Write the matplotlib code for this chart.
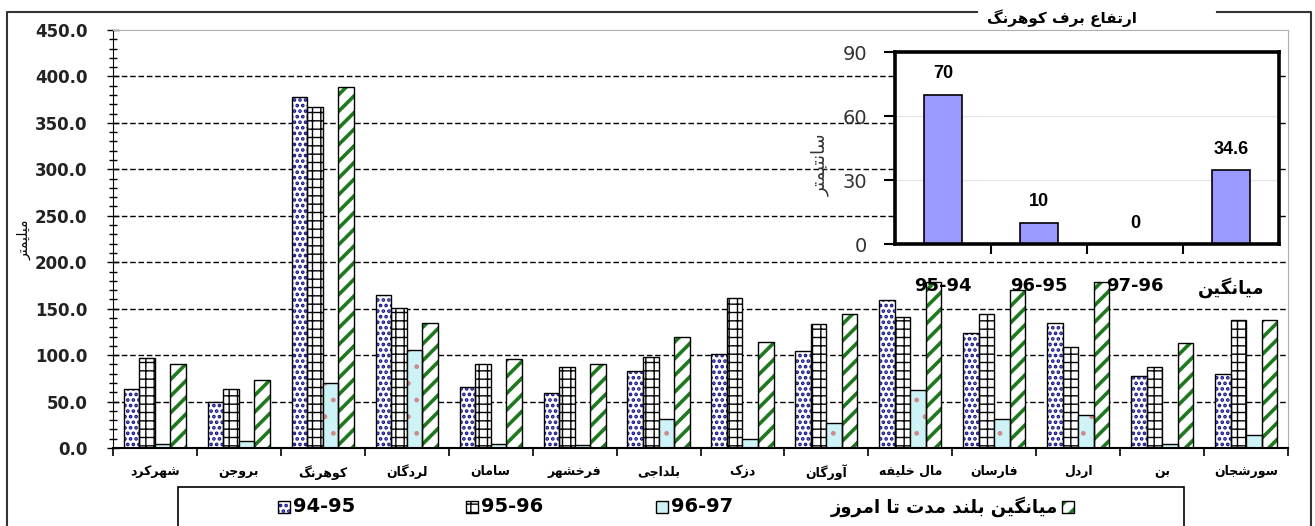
import numpy as np
import matplotlib
matplotlib.use("Agg")
import matplotlib.pyplot as plt
from matplotlib.patches import Rectangle
from matplotlib.lines import Line2D

# --- data -------------------------------------------------------------
stations = ['شهرکرد', 'بروجن', 'کوهرنگ', 'لردگان', 'سامان', 'فرخشهر', 'بلداجی',
            'دزک', 'آورگان', 'مال خلیفه', 'فارسان', 'اردل', 'بن', 'سورشجان']
y9495 = [63, 50, 378, 165, 66, 59, 83, 101, 104, 159, 124, 135, 77, 80]
y9596 = [97, 64, 367, 151, 90, 87, 98, 162, 133, 141, 144, 109, 87, 138]
y9697 = [4, 8, 70, 105, 4, 3, 31, 10, 27, 62, 31, 35, 4, 14]
ylong = [90, 73, 389, 135, 96, 90, 120, 114, 144, 179, 170, 179, 113, 138]
series_names = ['94-95', '95-96', '96-97', 'میانگین بلند مدت تا امروز']

inset_cats = ['95-94', '96-95', '97-96', 'میانگین']
inset_vals = [70, 10, 0, 34.6]
inset_title = 'ارتفاع برف کوهرنگ'
ylabel_main = 'میلیمتر'
ylabel_inset = 'سانتیمتر'

# --- tiny persian shaper (matplotlib 3.10 has no text shaping) --------
FORMS = {
    'ا': ('\uFE8D', '\uFE8E', None, None),
    'آ': ('\uFE81', '\uFE82', None, None),
    'ب': ('\uFE8F', '\uFE90', '\uFE91', '\uFE92'),
    'ت': ('\uFE95', '\uFE96', '\uFE97', '\uFE98'),
    'ج': ('\uFE9D', '\uFE9E', '\uFE9F', '\uFEA0'),
    'خ': ('\uFEA5', '\uFEA6', '\uFEA7', '\uFEA8'),
    'د': ('\uFEA9', '\uFEAA', None, None),
    'ر': ('\uFEAD', '\uFEAE', None, None),
    'ز': ('\uFEAF', '\uFEB0', None, None),
    'س': ('\uFEB1', '\uFEB2', '\uFEB3', '\uFEB4'),
    'ش': ('\uFEB5', '\uFEB6', '\uFEB7', '\uFEB8'),
    'ع': ('\uFEC9', '\uFECA', '\uFECB', '\uFECC'),
    'ف': ('\uFED1', '\uFED2', '\uFED3', '\uFED4'),
    'ل': ('\uFEDD', '\uFEDE', '\uFEDF', '\uFEE0'),
    'م': ('\uFEE1', '\uFEE2', '\uFEE3', '\uFEE4'),
    'ن': ('\uFEE5', '\uFEE6', '\uFEE7', '\uFEE8'),
    'ه': ('\uFEE9', '\uFEEA', '\uFEEB', '\uFEEC'),
    'و': ('\uFEED', '\uFEEE', None, None),
    'ی': ('\uFBFC', '\uFBFD', '\uFBFE', '\uFBFF'),
    'ک': ('\uFB8E', '\uFB8F', '\uFB90', '\uFB91'),
    'گ': ('\uFB92', '\uFB93', '\uFB94', '\uFB95'),
}


def fa(text):
    text = text.replace('\u064A', '\u06CC').replace('\u0643', '\u06A9')
    if not any(ch in FORMS for ch in text):
        return text  # plain latin / digits, leave alone
    out = []
    for i, ch in enumerate(text):
        if ch not in FORMS:
            out.append(ch)
            continue
        prev = text[i - 1] if i > 0 else ''
        nxt = text[i + 1] if i + 1 < len(text) else ''
        join_prev = prev in FORMS and FORMS[prev][2] is not None
        join_next = FORMS[ch][2] is not None and nxt in FORMS
        iso, fin, ini, med = FORMS[ch]
        if join_prev and join_next:
            out.append(med)
        elif join_prev:
            out.append(fin)
        elif join_next:
            out.append(ini)
        else:
            out.append(iso)
    return ''.join(out)[::-1]


plt.rcParams['font.family'] = ['DejaVu Sans']
plt.rcParams['hatch.linewidth'] = 1.0

fig = plt.figure(figsize=(13.15, 5.26), dpi=100)
ax = fig.add_axes([0.0859, 0.1483, 0.8936, 0.7947])

x = np.arange(len(stations))
w = 0.185
navy = '#14148a'
green = '#1f7a1f'

# 94-95 : blue dots
with plt.rc_context({'hatch.linewidth': 1.8}):
    ax.bar(x - 1.5 * w, y9495, w, color='white', edgecolor=navy, hatch='...', lw=0, zorder=2)
ax.bar(x - 1.5 * w, y9495, w, fill=False, edgecolor='black', lw=1, zorder=3)
# 95-96 : bricks
ax.bar(x - 0.5 * w, y9596, w, color='white', edgecolor='black', hatch='++', lw=1, zorder=2)
# 96-97 : light cyan
ax.bar(x + 0.5 * w, y9697, w, color='#cdf3f6', edgecolor='#d08a8a', hatch='.', lw=0, zorder=2)
ax.bar(x + 0.5 * w, y9697, w, fill=False, edgecolor='black', lw=1, zorder=3)
# long-term mean : green stripes
with plt.rc_context({'hatch.linewidth': 2.6}):
    ax.bar(x + 1.5 * w, ylong, w, color='white', edgecolor=green, hatch='//', lw=0, zorder=2)
ax.bar(x + 1.5 * w, ylong, w, fill=False, edgecolor='black', lw=1, zorder=3)

ax.set_xlim(-0.5, len(stations) - 0.5)
ax.set_ylim(0, 450)
ax.set_yticks(np.arange(0, 451, 50))
ax.set_yticks(np.arange(0, 451, 10), minor=True)
ax.set_yticklabels(['%.1f' % v for v in np.arange(0, 451, 50)], fontweight='bold',
                   fontsize=12, color='#222222')
ax.tick_params(axis='y', which='major', direction='inout', length=9, width=1, pad=14)
ax.tick_params(axis='y', which='minor', direction='inout', length=6, width=1)

ax.set_xticks(x)
ax.set_xticklabels([fa(s) for s in stations], fontsize=9, fontweight='bold')
ax.set_xticks(np.arange(-0.5, len(stations), 1), minor=True)
ax.tick_params(axis='x', which='major', length=0, pad=12)
ax.tick_params(axis='x', which='minor', direction='out', length=6, width=1.2)

ax.set_axisbelow(True)
ax.yaxis.grid(True, color='black', linestyle=(0, (4, 2)), lw=1)
gl = ax.yaxis.get_gridlines()
gl[0].set_visible(False)
gl[-1].set_visible(False)
ax.spines['left'].set_color('black')
ax.spines['bottom'].set_linewidth(1.5)
ax.spines['top'].set_color('#b0b0b0')
ax.spines['right'].set_color('#b0b0b0')

fig.text(24 / 1315, 1 - 240 / 526, fa(ylabel_main), rotation=90, fontsize=10,
         ha='center', va='center')

# --- inset ------------------------------------------------------------
iax = fig.add_axes([0.6806, 0.536, 0.292, 0.365])
ix = np.arange(len(inset_cats))
ib = iax.bar(ix, inset_vals, 0.4, color='#9999ff', edgecolor='black', lw=1.2, zorder=2)
iax.bar_label(ib, fmt='%g', padding=9, fontsize=13, fontweight='bold',
              family='Liberation Sans')
iax.set_xlim(-0.5, len(inset_cats) - 0.5)
iax.set_ylim(0, 90)
iax.set_yticks([0, 30, 60, 90])
iax.tick_params(axis='y', direction='out', length=8, width=1.5, pad=12,
                labelsize=14, labelcolor='#333333')
iax.set_xticks(ix)
iax.set_xticklabels([fa(c) for c in inset_cats], fontsize=13, fontweight='bold')
iax.set_xticks(np.arange(0.5, len(inset_cats) - 1, 1), minor=True)
iax.tick_params(axis='x', which='major', length=0, pad=24)
iax.tick_params(axis='x', which='minor', direction='out', length=7, width=1.5)
iax.yaxis.grid(True, color='#e4e4e4', lw=0.8)
iax.set_axisbelow(True)
for sp in iax.spines.values():
    sp.set_linewidth(2.6)

fig.text(820 / 1315, 1 - 165 / 526, fa(ylabel_inset), rotation=90, fontsize=13,
         ha='center', va='center', color='#333333')
fig.text(1062 / 1315, 1 - 18 / 526, fa(inset_title), fontsize=11, fontweight='bold',
         ha='center', va='center')

# --- outer frame ------------------------------------------------------
def fline(xs, ys, **kw):
    fig.add_artist(Line2D([v / 1315 for v in xs], [1 - v / 526 for v in ys], **kw))

fline([7, 7, 977], [530, 12, 12], color='#333333', lw=1.5)
fline([1217, 1311, 1311], [12, 12, 530], color='#333333', lw=1.5)

# --- legend box -------------------------------------------------------
fig.add_artist(Rectangle((178 / 1315, -0.05), (1184 - 178) / 1315, 0.05 + 1 - 487 / 526,
                         transform=fig.transFigure, fill=False, edgecolor='black', lw=1.2))
ly = 1 - 507 / 526
sq_w, sq_h = 12 / 1315, 12 / 526


def key(xpx, **kw):
    r = Rectangle((xpx / 1315, ly - sq_h / 2), sq_w, sq_h, transform=fig.transFigure, **kw)
    fig.add_artist(r)
    return r


with plt.rc_context({'hatch.linewidth': 1.8}):
    key(278, facecolor='white', edgecolor=navy, hatch='...', lw=0)
key(278, fill=False, edgecolor='black', lw=1)
fig.text(293 / 1315, ly, series_names[0], fontsize=14, fontweight='bold', va='center')
key(466, facecolor='white', edgecolor='black', hatch='++', lw=1)
fig.text(481 / 1315, ly, series_names[1], fontsize=14, fontweight='bold', va='center')
key(656, facecolor='#cdf3f6', edgecolor='#d08a8a', hatch='.', lw=0)
key(656, fill=False, edgecolor='black', lw=1)
fig.text(671 / 1315, ly, series_names[2], fontsize=14, fontweight='bold', va='center')
with plt.rc_context({'hatch.linewidth': 2.6}):
    key(1062, facecolor='white', edgecolor=green, hatch='//', lw=0)
key(1062, fill=False, edgecolor='black', lw=1)
fig.text(1058 / 1315, ly, fa(series_names[3]), fontsize=13, fontweight='bold',
         va='center', ha='right')

fig.savefig('out.png', dpi=100)
